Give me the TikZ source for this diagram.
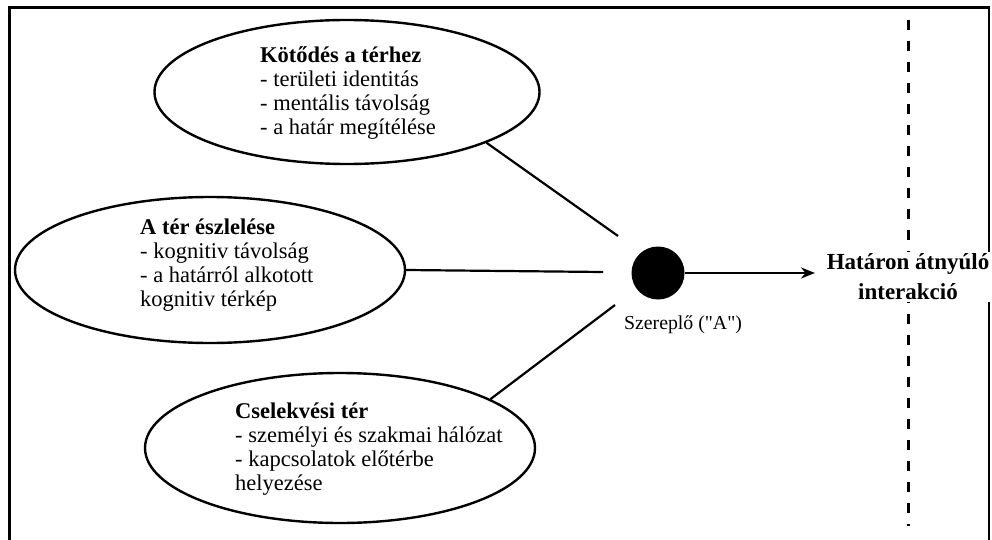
\documentclass[tikz,border=0pt]{standalone}
\usepackage{fontspec}
\setmainfont{Liberation Serif}
\newfontfamily\plainserif[Ligatures=TeXOff]{Liberation Serif}
\usetikzlibrary{shapes.geometric,arrows.meta}
\begin{document}
\begin{tikzpicture}[x=1pt,y=-1pt,
  oval/.style={ellipse,draw,line width=2.4pt,inner sep=0pt},
  conn/.style={line width=2.2pt},
  txt/.style={align=left,anchor=west,inner sep=0pt,font=\fontsize{22.5}{24}\selectfont},
  frameline/.style={line width=2.7pt},
  border/.style={line width=3pt,dash pattern=on 10pt off 11pt},
]
\useasboundingbox (0,0) rectangle (992,540);
% frame
\draw[frameline] (9.3,540) -- (9.3,7.5) -- (989,7.5) -- (989,540);
% dashed border line
\coordinate (dtop) at (908,20);
\coordinate (dbot) at (908,526);
\draw[border] (dtop) -- (dbot);
% ellipses
\node[oval,minimum width=385pt,minimum height=144pt] (e1) at (347,92) {};
\node[oval,minimum width=390pt,minimum height=146pt] (e2) at (210,270) {};
\node[oval,minimum width=390pt,minimum height=150pt] (e3) at (340,448) {};
\node[txt] (t1) at (260,93) {\textbf{Kötődés a térhez}\\- területi identitás\\- mentális távolság\\- a határ megítélése};
\node[txt] (t2) at (140,265) {\textbf{A tér észlelése}\\- kognitiv távolság\\- a határról alkotott\\kognitiv térkép};
\node[txt] (t3) at (235,449) {\textbf{Cselekvési tér}\\- személyi és szakmai hálózat\\- kapcsolatok előtérbe\\helyezése};
% actor
\node[circle,fill=black,minimum size=53pt,inner sep=0pt] (actor) at (658,273) {};
\node[font=\plainserif\fontsize{19.8}{22}\selectfont,inner sep=0pt] (lbl) at (683,325) {Szereplő ("A")};
\coordinate (c1) at (618,236);
\coordinate (c2) at (603,272);
\coordinate (c3) at (615,305);
\coordinate (tip) at (815,273);
\draw[conn] (e1.-20) -- (c1);
\draw[conn] (e2.east) -- (c2);
\draw[conn] (e3.18) -- (c3);
\draw[conn,-{Stealth[length=14pt,width=11pt]}] (actor) -- (tip);
% goal
\node[fill=white,align=center,inner sep=2pt,font=\bfseries\fontsize{23}{30}\selectfont] (goal) at (908,277) {Határon átnyúló\\interakció};
\end{tikzpicture}
\end{document}
